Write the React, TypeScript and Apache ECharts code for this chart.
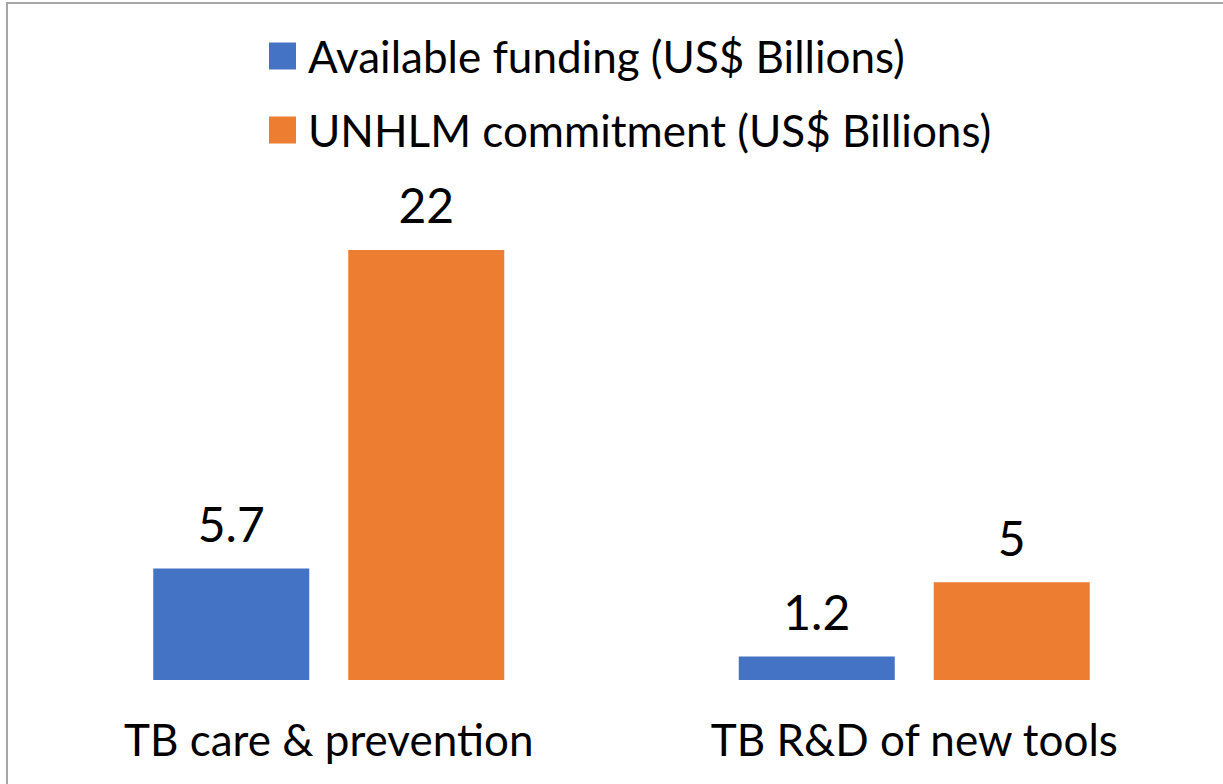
import React, { useEffect, useRef } from "react";
import * as echarts from "echarts";

const categories = ["TB care & prevention", "TB R&D of new tools"];
const availableFunding = [5.7, 1.2];
const unhlmCommitment = [22, 5];
const seriesNames = ["Available funding (US$ Billions)", "UNHLM commitment (US$ Billions)"];

const FONT = "Lato";

export default function App() {
  const ref = useRef<HTMLDivElement>(null);
  useEffect(() => {
    if (!ref.current) return;
    const chart = echarts.init(ref.current, undefined, { renderer: "svg" });
    const labelStyle = {
      show: true,
      position: "top" as const,
      distance: 21,
      color: "#000",
      fontFamily: FONT,
      fontSize: 48,
      lineHeight: 48,
    };
    chart.setOption({
      animation: false,
      backgroundColor: "#fff",
      graphic: [
        {
          type: "rect",
          shape: { x: 7, y: 3, width: 1240, height: 800 },
          style: { fill: "none", stroke: "#a6a6a6", lineWidth: 2 },
          silent: true,
        },
      ],
      legend: {
        orient: "vertical",
        left: 269,
        top: 34,
        padding: 0,
        itemWidth: 27,
        itemHeight: 27,
        itemGap: 30,
        icon: "rect",
        data: seriesNames,
        textStyle: {
          color: "#000",
          fontFamily: FONT,
          fontSize: 44,
          lineHeight: 44,
          padding: [0, 0, 0, 7],
        },
      },
      grid: { left: 36, right: 16, top: 191.25, bottom: 104, containLabel: false },
      xAxis: {
        type: "category",
        data: categories,
        axisLine: { show: false },
        axisTick: { show: false },
        axisLabel: {
          color: "#000",
          fontFamily: FONT,
          fontSize: 44,
          lineHeight: 44,
          margin: 37,
        },
      },
      yAxis: {
        type: "value",
        min: 0,
        max: 25,
        show: false,
        splitLine: { show: false },
      },
      series: [
        {
          name: seriesNames[0],
          type: "bar",
          data: availableFunding,
          barWidth: 156,
          barGap: "25%",
          itemStyle: { color: "#4472C4" },
          label: labelStyle,
        },
        {
          name: seriesNames[1],
          type: "bar",
          data: unhlmCommitment,
          barWidth: 156,
          barGap: "25%",
          itemStyle: { color: "#ED7D31" },
          label: labelStyle,
        },
      ],
    });
    return () => chart.dispose();
  }, []);
  return (
    <div
      ref={ref}
      style={{ position: "fixed", left: 0, top: 0, width: 1223, height: 784 }}
    />
  );
}
